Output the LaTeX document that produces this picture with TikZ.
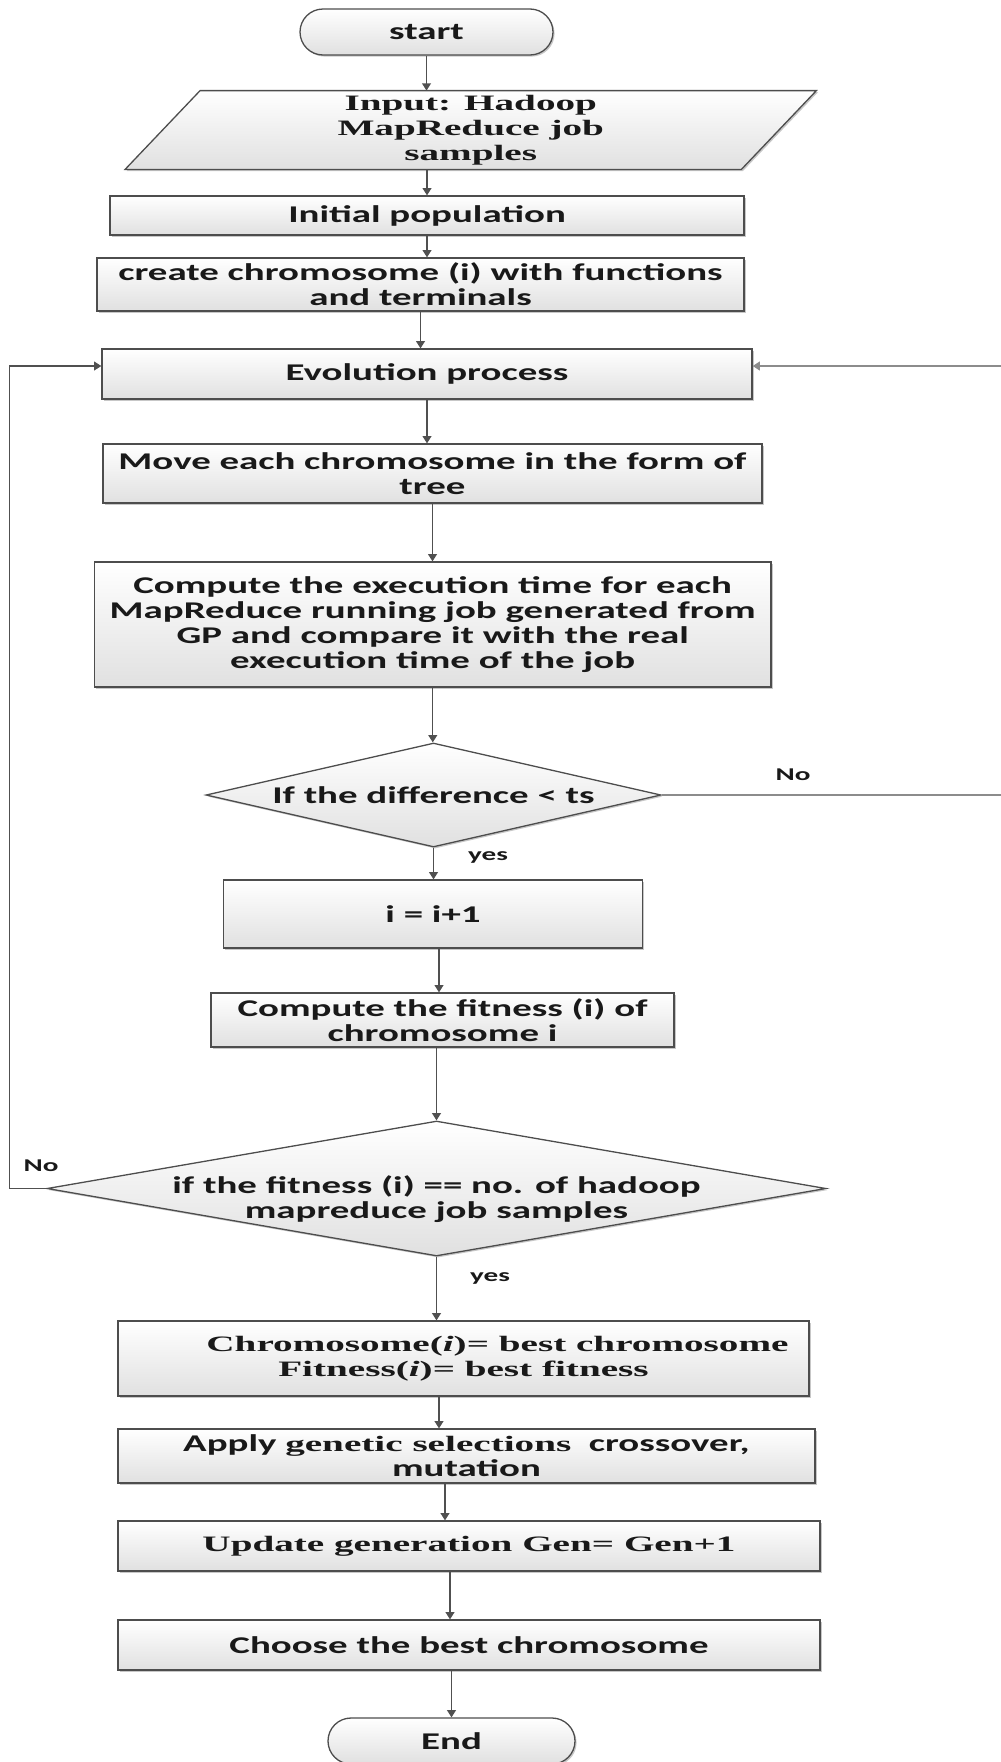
\documentclass[tikz,border=0pt]{standalone}
\usepackage{fontspec}
\setmainfont{Carlito}[FakeStretch=1.62]
\newfontfamily\serifwide{Liberation Serif}[FakeStretch=1.78]
\usetikzlibrary{shapes.geometric,arrows.meta,shadows,calc}

\definecolor{edgegray}{HTML}{4D4D4D}
\definecolor{linkgray}{HTML}{505050}
\definecolor{loopgray}{HTML}{8C8C8C}

\newcommand\calbf{\fontsize{12}{12.5}\selectfont\bfseries}
\newcommand\timesbf{\serifwide\fontsize{11}{12.5}\selectfont\bfseries}
\newcommand\lblbf{\fontsize{9}{10}\selectfont\bfseries}

\tikzset{
  softfill/.style={top color=white, bottom color=black!12,
    drop shadow={shadow xshift=0.8pt, shadow yshift=-0.8pt, opacity=0.22, fill=black}},
  stepbox/.style={draw=edgegray, line width=0.65pt, softfill, inner sep=0pt,
    align=center, font=\calbf, text=black!90},
  terminal/.style={stepbox, rounded corners=11.5pt, minimum width=126.5pt, minimum height=23pt},
  decision/.style={stepbox, shape=diamond, shape aspect=1},
  arr/.style={draw=linkgray, line width=0.6pt, -{Triangle[length=3.6pt,width=4.4pt]}},
  loopline/.style={arr, draw=loopgray, line width=0.8pt},
  edgelabel/.style={font=\lblbf, text=black!90, inner sep=0pt}
}

\begin{document}
\begin{tikzpicture}[x=0.5pt,y=-0.5pt]
\useasboundingbox (0,0) rectangle (1001,1762);

% ---- nodes (coordinates in pixels, y downwards) ----
\node[terminal] (start) at (426.5,32) {start};

% input/output parallelogram: an empty node gives the anchors, the outline is drawn from them
\node[minimum width=307.75pt, minimum height=39pt, inner sep=0pt] (input) at (470.75,130) {};
\path[draw=edgegray, line width=0.65pt, softfill]
  ($(input.north west)+(37.5,0)$) -- ($(input.north east)+(37.5,0)$) --
  ($(input.south east)+(-37.5,0)$) -- ($(input.south west)+(-37.5,0)$) -- cycle;
\node[align=center, font=\timesbf, text=black!90, inner sep=0pt] (inputtext) at (input.center)
  {Input: Hadoop\\MapReduce job\\samples};

\node[stepbox, minimum width=317pt, minimum height=19.5pt] (initpop) at (427,215.5)
  {Initial population};
\node[stepbox, minimum width=323.5pt, minimum height=26.5pt] (create) at (420.5,284.5)
  {create chromosome (i) with functions\\and terminals};
\node[stepbox, minimum width=325pt, minimum height=25pt] (evol) at (427,374)
  {Evolution process};
\node[stepbox, minimum width=329.5pt, minimum height=29.5pt] (move) at (432.5,473.5)
  {Move each chromosome in the form of\\tree};
\node[stepbox, minimum width=338.25pt, minimum height=62.5pt] (compute) at (432.75,624.5)
  {Compute the execution time for each\\MapReduce running job generated from\\GP and compare it with the real\\execution time of the job};
\node[decision, minimum width=227.5pt, minimum height=52pt] (d1) at (433.5,795)
  {\makebox[0pt]{If the difference < ts}};
\node[stepbox, minimum width=209.75pt, minimum height=34pt] (ibox) at (433,914)
  {i = i+1};
\node[stepbox, minimum width=231.5pt, minimum height=27pt] (fit) at (442.5,1020)
  {Compute the fitness (i) of\\chromosome i};
\node[decision, minimum width=389.5pt, minimum height=67.5pt] (d2) at (436.5,1188.5)
  {\makebox[0pt]{\raisebox{-9pt}[0pt][0pt]{\begin{tabular}{@{}c@{}}if the fitness (i) == no. of hadoop\\mapreduce job samples\end{tabular}}}};
\node[stepbox, minimum width=345.5pt, minimum height=37.5pt, font=\timesbf] (chrom) at (463.5,1358.5)
  {\hspace*{34pt}Chromosome(\textit{i})= best chromosome\\Fitness(\textit{i})= best fitness};
\node[stepbox, minimum width=348.5pt, minimum height=27pt] (apply) at (466.5,1456)
  {Apply {\timesbf genetic selections}\ \ crossover,\\mutation};
\node[stepbox, minimum width=351pt, minimum height=25pt, font=\timesbf] (update) at (469,1546)
  {Update generation Gen= Gen+1};
\node[stepbox, minimum width=351pt, minimum height=25pt] (choose) at (469,1645)
  {Choose the best chromosome};
\node[terminal, minimum width=123.5pt] (end) at (451.5,1741) {End};

% ---- branch labels ----
\node[edgelabel] (no1) at (793,775) {No};
\node[edgelabel] (yes1) at (488,857) {yes};
\node[edgelabel] (no2) at (41,1166) {No};
\node[edgelabel] (yes2) at (490,1278) {yes};

% ---- main flow ----
\draw[arr] (start.south) -- (start.south |- input.north);
\draw[arr] (initpop.north |- input.south) -- (initpop.north);
\draw[arr] (initpop.south) -- (initpop.south |- create.north);
\draw[arr] (create.south) -- (create.south |- evol.north);
\draw[arr] (evol.south) -- (evol.south |- move.north);
\draw[arr] (move.south) -- (move.south |- compute.north);
\draw[arr] (compute.south) -- (compute.south |- d1.north);
\draw[arr] (d1.south) -- (d1.south |- ibox.north);
\draw[arr] (ibox.south -| 439,0) -- (fit.north -| 439,0);
\draw[arr] (d2.north |- fit.south) -- (d2.north);
\draw[arr] (d2.south) -- (d2.south |- chrom.north);
\draw[arr] (chrom.south -| 439,0) -- (apply.north -| 439,0);
\draw[arr] (apply.south -| 445,0) -- (update.north -| 445,0);
\draw[arr] (update.south -| 450,0) -- (choose.north -| 450,0);
\draw[arr] (end.north |- choose.south) -- (end.north);

% ---- loops back to the evolution step ----
\draw[arr] (d2.west) -- ++(-37,0) |- ([yshift=4pt]evol.west);
\draw[loopline] (d1.east) -- (1006,795) |- ([yshift=4pt]evol.east);
\end{tikzpicture}
\end{document}
